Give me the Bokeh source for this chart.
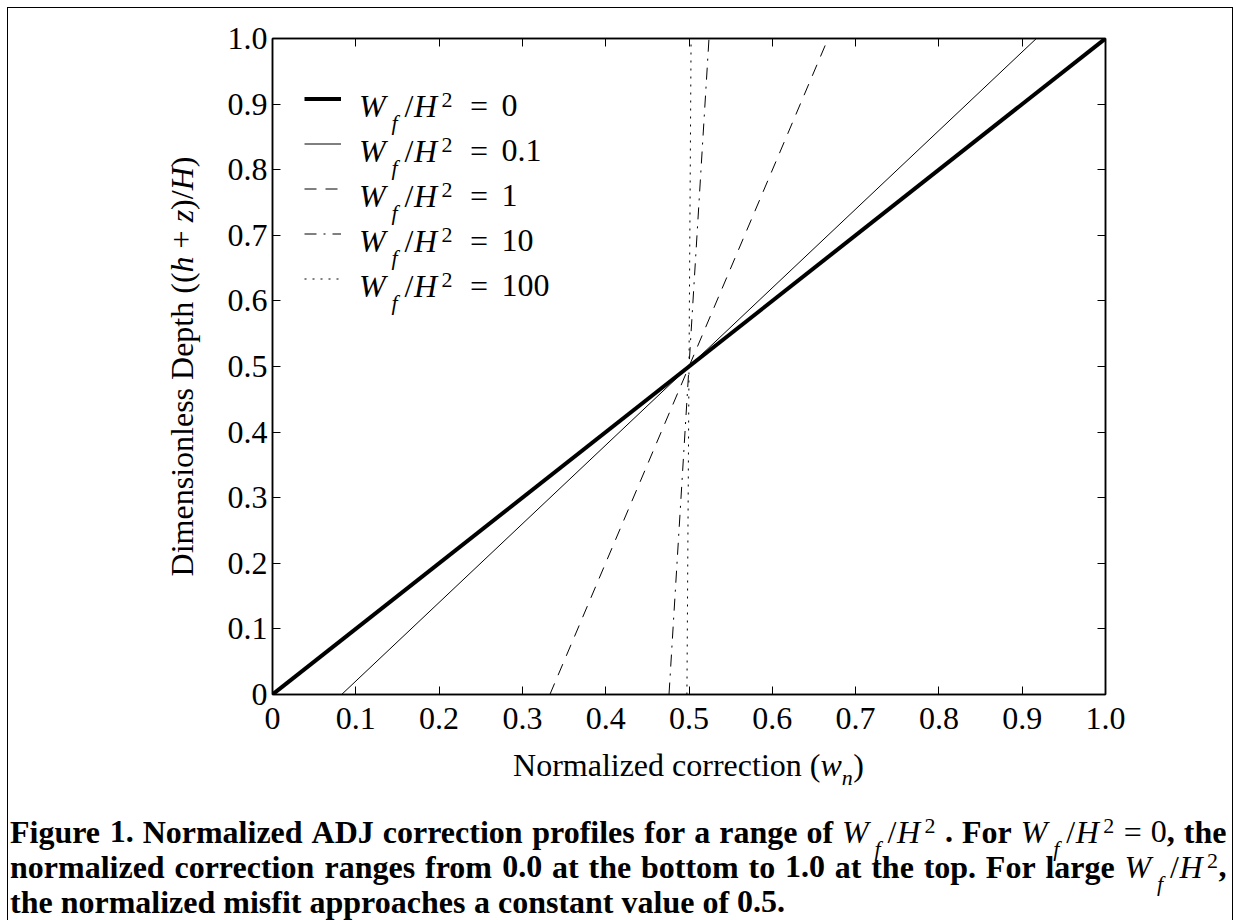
import math
from bokeh.plotting import figure
from bokeh.layouts import column, row
from bokeh.models import Range1d, LinearAxis, FixedTicker, Label, Legend, LegendItem
from bokeh.embed import file_html
from bokeh.resources import INLINE

# ---------------- data ----------------
ratio_labels = ["0", "0.1", "1", "10", "100"]          # W_f / H^2
depth = [0.0, 1.0]                                     # (h+z)/H at bottom, top
corr_bottom = [0.0, 0.083, 0.333, 0.476, 0.4975]        # w_n at depth 0
corr_top = [1.0, 0.917, 0.667, 0.524, 0.5025]           # w_n at depth 1
tick_values = [0.0, 0.1, 0.2, 0.3, 0.4, 0.5, 0.6, 0.7, 0.8, 0.9, 1.0]
tick_labels = ["0", "0.1", "0.2", "0.3", "0.4", "0.5", "0.6", "0.7", "0.8", "0.9", "1.0"]

# ---------------- styles ----------------
line_widths = [4, 1, 1, 1, 1]
line_dashes = ["solid", "solid", "12 9", "12 7 2 7", "2 6"]
FONT = "Liberation Serif"

W_PAGE, H_PAGE = 1236, 920
WY = 212            # width of the left strip holding the y title
HM = 744            # height of the main plot row
FRAME_L, FRAME_R, FRAME_T, FRAME_B = 272, 1105, 38, 694

p = figure(width=W_PAGE - WY, height=HM, x_range=Range1d(0, 1), y_range=Range1d(0, 1),
           output_backend="svg", toolbar_location=None,
           x_axis_location=None, y_axis_location=None,
           min_border_left=FRAME_L - WY, min_border_right=W_PAGE - FRAME_R,
           min_border_top=FRAME_T, min_border_bottom=HM - FRAME_B)
p.border_fill_color = None
p.background_fill_color = "white"
p.outline_line_color = "black"
p.outline_line_width = 1.5
p.grid.visible = False


def make_axis(side, labels_on):
    ax = LinearAxis(ticker=FixedTicker(ticks=tick_values))
    ax.major_label_overrides = dict(zip(tick_values, tick_labels))
    ax.major_tick_in = 8
    ax.major_tick_out = 0
    ax.minor_tick_line_color = None
    ax.axis_line_width = 1.5
    ax.axis_line_color = "black"
    ax.major_tick_line_color = "black"
    ax.major_label_text_font = FONT
    if labels_on:
        ax.major_label_text_color = "black"
        ax.major_label_text_font_size = "32px"
        ax.major_label_standoff = 13 if side == "below" else 5
    else:
        ax.major_label_text_color = None
        ax.major_label_text_font_size = "1px"
        ax.major_label_standoff = 0
    p.add_layout(ax, side)
    return ax


make_axis("below", True)
make_axis("left", True)
make_axis("above", False)
make_axis("right", False)

renderers = []
for i in range(len(ratio_labels)):
    r = p.line(x=[corr_bottom[i], corr_top[i]], y=depth, line_color="black",
               line_width=line_widths[i], line_dash=line_dashes[i])
    renderers.append(r)

legend = Legend(items=[LegendItem(label=" ", renderers=[r]) for r in renderers],
                location=(32, 393.5), orientation="vertical",
                glyph_width=37, glyph_height=45, spacing=0, padding=0, margin=0,
                label_standoff=0, label_width=0, label_height=0,
                label_text_font_size="1px", label_text_color=None,
                border_line_color=None, background_fill_alpha=0)
p.add_layout(legend, "center")


def blank_fig(w, h):
    f = figure(width=w, height=h, x_range=Range1d(0, 1), y_range=Range1d(0, 1),
               output_backend="svg", toolbar_location=None,
               x_axis_location=None, y_axis_location=None, min_border=0)
    f.border_fill_color = None
    f.background_fill_color = None
    f.outline_line_color = None
    f.grid.visible = False
    return f


fy = blank_fig(WY, HM)                 # y title strip (its frame is aligned with the main frame)
fc = blank_fig(W_PAGE, H_PAGE - HM)    # caption strip (page y 744..920)

# ---------------- text helpers (page pixel coordinates) ----------------
REG = {' ': 250, '(': 333, ')': 333, '+': 564, '.': 250, '/': 278, '=': 564, ',': 250,
       'D': 722, 'H': 722, 'N': 722, 'W': 944, 'a': 444, 'b': 500, 'c': 444, 'd': 500,
       'e': 444, 'f': 333, 'g': 500, 'h': 500, 'i': 278, 'l': 278, 'm': 778, 'n': 500,
       'o': 500, 'p': 500, 'r': 333, 's': 389, 't': 278, 'u': 500, 'w': 722, 'z': 444}
ITA = {' ': 250, 'W': 833, 'H': 722, 'f': 278, 'h': 500, 'n': 500, 'w': 667, 'z': 389}
BLD = {' ': 250, '.': 250, ',': 250, 'A': 722, 'D': 722, 'F': 611, 'J': 500, 'N': 722,
       'a': 500, 'b': 556, 'c': 444, 'd': 556, 'e': 444, 'f': 333, 'g': 500, 'h': 556,
       'i': 278, 'l': 278, 'm': 833, 'n': 556, 'o': 500, 'p': 556, 'r': 444, 's': 389,
       't': 333, 'u': 556, 'v': 500, 'z': 444}
TABLES = {"normal": REG, "italic": ITA, "bold": BLD}

ORIGINS = {"main": (p, FRAME_L, FRAME_B), "ytitle": (fy, 0, FRAME_B), "caption": (fc, 0, H_PAGE)}
BASE_FIX = 0.375   # renderer draws 'alphabetic' text this many em lower than asked


def adv(text, style, size):
    tbl = TABLES[style]
    return sum(tbl.get(c, 500) for c in text) * size / 1000.0


def put(where, X, Y, text, style="normal", size=32, rotated=False):
    stripped = text.lstrip(" ")
    lead = adv(text[:len(text) - len(stripped)], style, size)
    fix = BASE_FIX * size
    if rotated:
        X, Y = X - fix, Y - lead
    else:
        X, Y = X + lead, Y - fix
    fig, ox, oy = ORIGINS[where]
    fig.add_layout(Label(x=X - ox, y=oy - Y, x_units="screen", y_units="screen",
                         text=stripped.rstrip(" "),
                         text_font=FONT, text_font_size=f"{size}px", text_font_style=style,
                         text_baseline="alphabetic", text_align="left", text_color="black",
                         angle=math.pi / 2 if rotated else 0.0))


SUB = 22
MATH_W = 94


def put_math(where, X, base):
    put(where, X, base, "W", "italic")
    put(where, X + 32.5, base + 13, "f", "italic", SUB)
    put(where, X + 45.5, base, "/", "normal")
    put(where, X + 55, base, "H", "italic")
    put(where, X + 82.5, base - 9, "2", "normal", SUB)


# legend texts
for i, lab in enumerate(ratio_labels):
    base = 117 + 45 * i
    put_math("main", 358.5, base)
    put("main", 469.6, base, "=", "normal")
    put("main", 501, base, lab, "normal")

# y axis title (rotated, reads bottom to top)
y_runs = [("Dimensionless Depth ((", "normal"), ("h", "italic"), (" + ", "normal"),
          ("z", "italic"), (")/", "normal"), ("H", "italic"), (")", "normal")]
total = sum(adv(t, s, 32) for t, s in y_runs)
Yc = 366 + total / 2
for t, s in y_runs:
    put("ytitle", 193, Yc, t, s, 32, rotated=True)
    Yc -= adv(t, s, 32)

# x axis title
x_runs_w = adv("Normalized correction (", "normal", 32) + adv("w", "italic", 32) + 11.5 + adv(")", "normal", 32)
X0 = 688 - x_runs_w / 2
XB = 776
put("caption", X0, XB, "Normalized correction (", "normal")
X1 = X0 + adv("Normalized correction (", "normal", 32)
put("caption", X1, XB, "w", "italic")
X2 = X1 + adv("w", "italic", 32)
put("caption", X2, XB + 9, "n", "italic", SUB)
put("caption", X2 + 11.5, XB, ")", "normal")

# caption
MATH = "MATH"


def tok_width(tok):
    w = 0.0
    for run in tok:
        w += MATH_W if run == MATH else adv(run[0], run[1], 32)
    return w


def draw_tok(tok, x, base):
    for run in tok:
        if run == MATH:
            put_math("caption", x, base)
            x += MATH_W
        else:
            put("caption", x, base, run[0], run[1], 32)
            x += adv(run[0], run[1], 32)


def B(word):
    return [(word, "bold")]


line1 = [B(w) for w in "Figure 1. Normalized ADJ correction profiles for a range of".split()] + \
        [[MATH], B("."), B("For"), [MATH], [("=", "normal")], [("0", "normal"), (",", "bold")], B("the")]
line2 = [B(w) for w in "normalized correction ranges from 0.0 at the bottom to 1.0 at the top. For large".split()] + \
        [[MATH, (",", "bold")]]
line3 = [B(w) for w in "the normalized misfit approaches a constant value of 0.5.".split()]


def layout_line(tokens, base, x0=9.5, x1=None):
    widths = [tok_width(t) for t in tokens]
    sp = 8.0
    if x1 is not None:
        sp = (x1 - x0 - sum(widths)) / (len(tokens) - 1)
    x = x0
    for t, w in zip(tokens, widths):
        draw_tok(t, x, base)
        x += w + sp


layout_line(line1, 843, x1=1226)
layout_line(line2, 878, x1=1226)
layout_line(line3, 913)

page = column(row(fy, p, spacing=0), fc, spacing=0)
page.styles = {"box-shadow": "inset 7px 7px 0 #fff, inset -3px 0 0 #fff, "
                             "inset 8px 8px 0 #000, inset -4px 0 0 #000"}

open("out.html", "w").write(file_html(page, INLINE))
